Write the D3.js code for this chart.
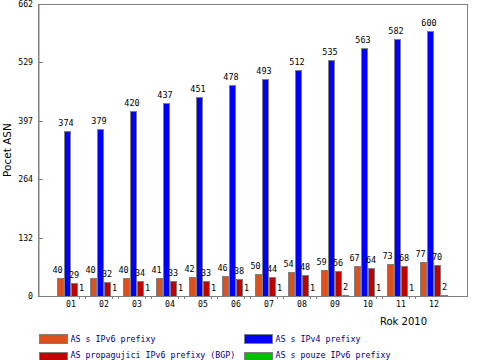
<!DOCTYPE html>
<html>
<head>
<meta charset="utf-8">
<script src="https://cdn.jsdelivr.net/npm/d3@7/dist/d3.min.js"></script>
<style>
  html, body { margin: 0; padding: 0; background: #fff; }
  svg { display: block; }
  .mono { font-family: "DejaVu Sans Mono", monospace; }
</style>
</head>
<body>
<svg id="chart" width="480" height="360"></svg>
<script>
const categories = ["01","02","03","04","05","06","07","08","09","10","11","12"];
const ipv6Prefixes = [40,40,40,41,42,46,50,54,59,67,73,77];
const ipv4Prefixes = [374,379,420,437,451,478,493,512,535,563,582,600];
const bgpPrefixes = [29,32,34,33,33,38,44,48,56,64,68,70];
const onlyIpv6 = [1,1,1,1,1,1,1,1,2,1,1,2];
const yTicks = [0,132.4,264.8,397.2,529.6,662];
const yTickLabels = ["0","132","264","397","529","662"];
const seriesNames = ["AS s IPv6 prefixy","AS s IPv4 prefixy","AS propagujici IPv6 prefixy (BGP)","AS s pouze IPv6 prefixy"];
const seriesColors = ["#e0501c","#0000ff","#c00000","#00c000"];
const seriesData = [ipv6Prefixes, ipv4Prefixes, bgpPrefixes, onlyIpv6];
const labelShift = [-3, -1.5, -0.5, 0];

const svg = d3.select("#chart");
const L = 38, R = 467, T = 4, B = 296;
const gray = "#808080";

const x = d3.scaleBand().domain(categories).range([L, R])
  .paddingInner(5/33).paddingOuter(19/33);
const xs = d3.scaleBand().domain(d3.range(4)).range([0, x.bandwidth()]);
const y = d3.scaleLinear().domain([0, 662]).range([B, T]);

// frame
svg.append("rect").attr("x", L+0.5).attr("y", T+0.5)
  .attr("width", R-L).attr("height", B-T)
  .attr("fill", "none").attr("stroke", gray).attr("shape-rendering","crispEdges");

// y axis
const yAxis = d3.axisRight(y).tickValues(yTicks).tickSize(4).tickFormat("");
const ya = svg.append("g").attr("transform", `translate(${L+0.5},0)`).call(yAxis);
ya.select(".domain").attr("stroke", gray);
ya.selectAll(".tick line").attr("stroke", gray).attr("shape-rendering","crispEdges");
svg.append("g").selectAll("text").data(yTicks).join("text")
  .attr("class","mono")
  .attr("x", L-5).attr("y", d => y(d)+3)
  .attr("text-anchor","end").attr("font-size", 8.2).attr("fill","#000")
  .text((d,i) => yTickLabels[i]);

// bars
const rows = [];
categories.forEach((c, ci) => seriesData.forEach((s, si) => rows.push({c, si, v: s[ci]})));
const g = svg.append("g");
g.selectAll("rect").data(rows).join("rect")
  .attr("x", d => x(d.c) + xs(d.si) + 0.5)
  .attr("y", d => y(d.v) + 0.5)
  .attr("width", xs.bandwidth() - 1)
  .attr("height", d => Math.max(0, y(0) - y(d.v)))
  .attr("fill", d => seriesColors[d.si])
  .attr("stroke", gray).attr("stroke-width", 1)
  .attr("shape-rendering","crispEdges");

// small stubs under tiny bars
const tiny = rows.filter(d => d.si === 3 && d.v < 2);
g.selectAll("path.stub").data(tiny).join("path").attr("class","stub")
  .attr("d", d => {
    const x0 = Math.round(x(d.c) + xs(d.si)) + 1.5, x1 = Math.round(x(d.c) + xs(d.si) + xs.bandwidth()) + 0.5;
    return `M${x0},${B}V${B+3}M${x1},${B}V${B+3}`;
  })
  .attr("stroke", gray).attr("fill","none").attr("shape-rendering","crispEdges");

// x axis line
svg.append("line").attr("x1", L).attr("x2", R+1).attr("y1", B+0.5).attr("y2", B+0.5)
  .attr("stroke", gray).attr("shape-rendering","crispEdges");

// value labels
g.selectAll("text.val").data(rows).join("text").attr("class","val mono")
  .attr("x", d => x(d.c) + xs(d.si) + xs.bandwidth()/2 + labelShift[d.si])
  .attr("y", d => y(d.v) - 5)
  .attr("text-anchor","middle").attr("font-size", 8.5).attr("fill","#000")
  .text(d => d.v);

// x labels
svg.append("g").selectAll("text").data(categories).join("text").attr("class","mono")
  .attr("x", d => x(d) + x.bandwidth()/2)
  .attr("y", 307)
  .attr("text-anchor","middle").attr("font-size", 8.2).attr("fill","#000")
  .text(d => d);

// axis titles
svg.append("text").attr("x", 427).attr("y", 325).attr("text-anchor","end")
  .attr("font-family","DejaVu Sans, sans-serif").attr("font-size", 10).attr("fill","#000")
  .text("Rok 2010");
svg.append("text").attr("transform","translate(10.5,150) rotate(-90)").attr("text-anchor","middle")
  .attr("font-family","DejaVu Sans, sans-serif").attr("font-size", 10.5).attr("fill","#000")
  .text("Pocet ASN");

// legend
const legendPos = [[39, 334],[244, 334],[39, 351.5],[244, 351.5]];
const lg = svg.append("g");
seriesNames.forEach((name, i) => {
  const [lx, ly] = legendPos[i];
  lg.append("rect").attr("x", lx+0.5).attr("y", ly+0.5).attr("width", 28).attr("height", 9)
    .attr("fill", seriesColors[i]).attr("stroke", gray).attr("shape-rendering","crispEdges");
  lg.append("text").attr("class","mono").attr("x", lx + 31.5).attr("y", ly + (i < 2 ? 8 : 6.5))
    .attr("font-size", 8.3).attr("fill","#000080").text(name);
});
</script>
</body>
</html>
